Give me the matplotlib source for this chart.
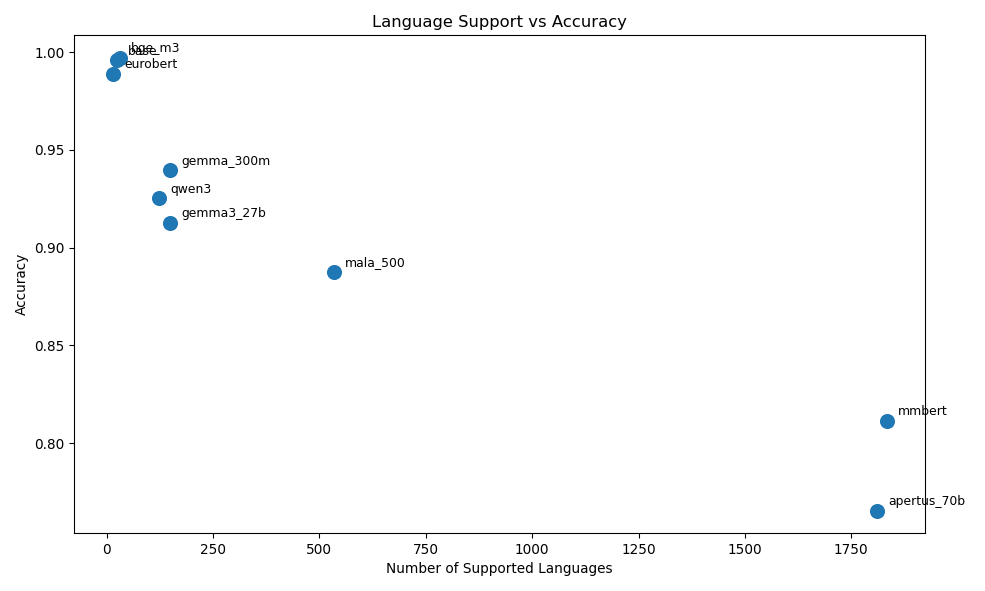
import matplotlib
matplotlib.use("Agg")
import matplotlib.pyplot as plt

models = ["bge_m3", "base", "eurobert", "gemma_300m", "qwen3", "gemma3_27b", "mala_500", "mmbert", "apertus_70b"]
languages = [32, 25, 15, 149, 123, 149, 534, 1833, 1811]
accuracy = [0.9972, 0.9958, 0.9890, 0.9395, 0.9254, 0.9128, 0.8877, 0.8114, 0.7656]

fig, ax = plt.subplots(figsize=(10, 6), dpi=98.5)
ax.scatter(languages, accuracy, s=100, color="#1f77b4")
for m, x, y in zip(models, languages, accuracy):
    ax.annotate(m, (x, y), xytext=(8, 4), textcoords="offset points", fontsize=9)
ax.set_xlabel("Number of Supported Languages")
ax.set_ylabel("Accuracy")
ax.set_title("Language Support vs Accuracy")
fig.tight_layout()
fig.savefig("out.png")
